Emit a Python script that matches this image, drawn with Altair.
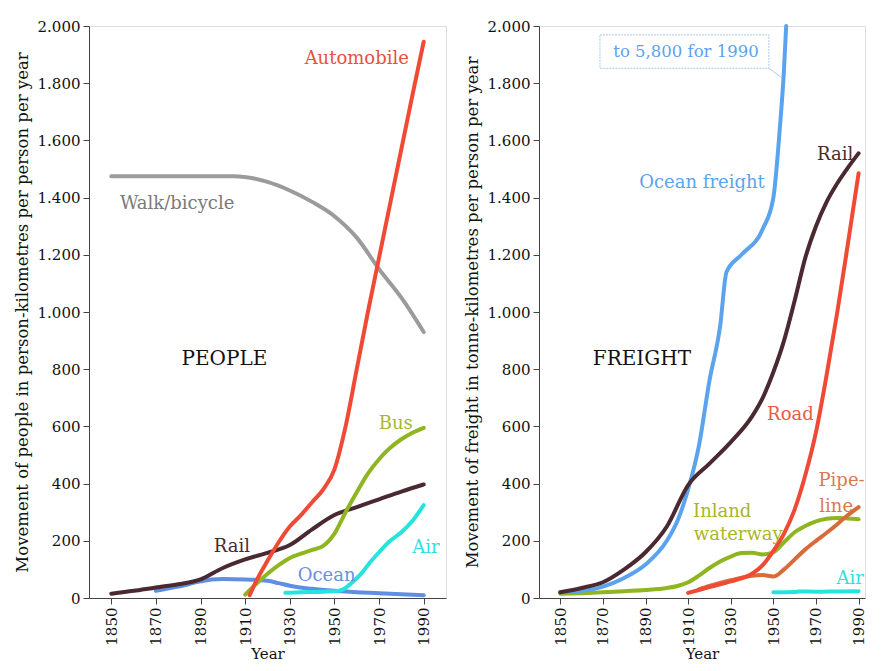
import altair as alt
import pandas as pd

FONT = "DejaVu Serif"

# ---------------- PEOPLE panel data ----------------
walk_years = [1850, 1870, 1890, 1905, 1920, 1930, 1940, 1950, 1960, 1970, 1980, 1990]
walk_vals = [1475, 1475, 1475, 1475, 1455, 1425, 1385, 1335, 1260, 1150, 1050, 930]

auto_years = [1912, 1915, 1920, 1925, 1930, 1935, 1940, 1945, 1950, 1955, 1960, 1965, 1970, 1975, 1980, 1985, 1990]
auto_vals = [10, 60, 130, 195, 250, 290, 335, 380, 450, 600, 800, 1000, 1190, 1380, 1570, 1760, 1945]

bus_years = [1910, 1915, 1920, 1925, 1930, 1935, 1940, 1945, 1950, 1955, 1960, 1965, 1970, 1975, 1980, 1985, 1990]
bus_vals = [12, 50, 85, 115, 140, 155, 168, 182, 225, 300, 370, 435, 485, 525, 555, 578, 595]

prail_years = [1850, 1860, 1870, 1880, 1890, 1900, 1910, 1920, 1930, 1940, 1950, 1960, 1970, 1980, 1990]
prail_vals = [15, 25, 37, 48, 65, 105, 135, 158, 185, 240, 290, 318, 345, 372, 397]

ocean_years = [1870, 1880, 1890, 1895, 1900, 1910, 1920, 1925, 1930, 1940, 1950, 1960, 1970, 1980, 1990]
ocean_vals = [25, 40, 58, 65, 66, 65, 60, 52, 43, 32, 25, 20, 17, 13, 10]

pair_years = [1928, 1935, 1945, 1952, 1955, 1958, 1962, 1966, 1970, 1975, 1980, 1985, 1990]
pair_vals = [18, 20, 22, 25, 35, 55, 85, 125, 160, 200, 230, 270, 325]

# ---------------- FREIGHT panel data ----------------
ofr_years = [1850, 1860, 1870, 1880, 1890, 1900, 1905, 1910, 1915, 1920, 1925, 1928, 1935, 1945, 1950, 1953, 1955, 1956]
ofr_vals = [20, 25, 40, 70, 117, 200, 270, 380, 530, 760, 950, 1140, 1200, 1290, 1400, 1640, 1850, 2000]

frail_years = [1850, 1860, 1870, 1880, 1890, 1900, 1910, 1920, 1930, 1940, 1945, 1950, 1955, 1960, 1965, 1970, 1975, 1980, 1985, 1990]
frail_vals = [20, 35, 55, 100, 160, 250, 395, 470, 545, 635, 700, 790, 900, 1040, 1190, 1300, 1385, 1450, 1505, 1555]

road_years = [1910, 1920, 1930, 1940, 1945, 1950, 1955, 1960, 1965, 1970, 1975, 1980, 1985, 1990]
road_vals = [18, 38, 58, 85, 115, 165, 225, 310, 430, 580, 780, 1000, 1240, 1485]

pipe_years = [1915, 1920, 1930, 1940, 1945, 1950, 1955, 1960, 1965, 1970, 1975, 1980, 1985, 1990]
pipe_vals = [30, 42, 62, 78, 80, 75, 100, 135, 170, 200, 228, 258, 290, 318]

inland_years = [1850, 1860, 1870, 1880, 1890, 1900, 1905, 1910, 1915, 1920, 1925, 1930, 1935, 1940, 1945, 1950, 1955, 1960, 1965, 1970, 1975, 1980, 1985, 1990]
inland_vals = [15, 17, 20, 24, 28, 35, 42, 55, 78, 105, 128, 145, 157, 158, 152, 160, 195, 230, 252, 268, 277, 280, 278, 275]

fair_years = [1950, 1960, 1962, 1970, 1980, 1990]
fair_vals = [20, 21, 23, 22, 23, 24]

# ---------------- annotation labels (data coordinates) ----------------
people_labels = ["Automobile", "Walk/bicycle", "Bus", "Rail", "Ocean", "Air"]
people_label_keys = ["Automobile", "Walk/bicycle", "Bus", "Rail", "Ocean", "Air"]
people_label_x = [1960, 1879.5, 1977.5, 1904, 1946.5, 1991]
people_label_y = [1886, 1376, 610, 179, 76, 176]

freight_labels = ["Ocean freight", "Rail", "Road", "Pipe-", "line", "Inland", "waterway", "Air"]
freight_label_keys = ["Ocean freight", "Rail", "Road", "Pipeline", "Pipeline", "Inland waterway", "Inland waterway", "Air"]
freight_label_x = [1916.5, 1979, 1958, 1982, 1979.5, 1926, 1933.5, 1986]
freight_label_y = [1451, 1548, 641, 410, 317, 300, 221, 66]

panel_titles = ["PEOPLE", "FREIGHT"]
panel_title_x = [1900.7, 1888.3]
panel_title_y = [834, 834]

note_text = ["to 5,800 for 1990"]
note_x = [1909]
note_y = [1910]

box_x = [1868.6]
box_x2 = [1947.9]
box_y = [1852]
box_y2 = [1969]
lead_x = [1947.9]
lead_x2 = [1953.8]
lead_y = [1852]
lead_y2 = [1820]

# ---------------- styles ----------------
people_series = ["Walk/bicycle", "Ocean", "Air", "Rail", "Bus", "Automobile"]
people_colors = ["#9b9b9b", "#5e8fe3", "#26e3e0", "#4a2a30", "#8fb520", "#f04a36"]
people_text_colors = ["#7a7a7a", "#6a8fe0", "#30dede", "#4a2a30", "#a8b62a", "#e8503c"]

freight_series = ["Air", "Inland waterway", "Pipeline", "Road", "Ocean freight", "Rail"]
freight_colors = ["#26e3e0", "#8fb520", "#d96a3a", "#f04a36", "#5ca3ee", "#4a2a30"]
freight_text_colors = ["#30dede", "#a8b62a", "#d87a4e", "#ec5a44", "#5ca3ee", "#4a2a30"]


def long_df(items):
    rows = []
    for name, ys, vs in items:
        for i, (yy, vv) in enumerate(zip(ys, vs)):
            rows.append({"series": name, "year": yy, "value": vv, "order": i})
    return pd.DataFrame(rows)


people_df = long_df([
    ("Walk/bicycle", walk_years, walk_vals),
    ("Ocean", ocean_years, ocean_vals),
    ("Air", pair_years, pair_vals),
    ("Rail", prail_years, prail_vals),
    ("Bus", bus_years, bus_vals),
    ("Automobile", auto_years, auto_vals),
])
freight_df = long_df([
    ("Air", fair_years, fair_vals),
    ("Inland waterway", inland_years, inland_vals),
    ("Pipeline", pipe_years, pipe_vals),
    ("Road", road_years, road_vals),
    ("Ocean freight", ofr_years, ofr_vals),
    ("Rail", frail_years, frail_vals),
])

people_lab_df = pd.DataFrame({"label": people_labels, "key": people_label_keys,
                              "x": people_label_x, "y": people_label_y})
freight_lab_df = pd.DataFrame({"label": freight_labels, "key": freight_label_keys,
                               "x": freight_label_x, "y": freight_label_y})
people_title_df = pd.DataFrame({"label": panel_titles[:1], "x": panel_title_x[:1], "y": panel_title_y[:1]})
freight_title_df = pd.DataFrame({"label": panel_titles[1:], "x": panel_title_x[1:], "y": panel_title_y[1:]})
note_df = pd.DataFrame({"label": note_text, "x": note_x, "y": note_y})
box_df = pd.DataFrame({"x": box_x, "x2": box_x2, "y": box_y, "y2": box_y2})
lead_df = pd.DataFrame({"x": lead_x, "x2": lead_x2, "y": lead_y, "y2": lead_y2})

Y_SCALE = alt.Scale(domain=[0, 2000], nice=False)


def x_axis():
    return alt.Axis(
        values=list(range(1850, 1991, 20)), format="d", labelAngle=270,
        labelAlign="right", labelBaseline="middle", labelFont=FONT, labelFontSize=15,
        labelColor="#111", tickColor="#444", domainColor="#444", tickSize=6,
        labelPadding=3, title="Year", titleFont=FONT, titleFontSize=15,
        titleFontWeight="normal", titleColor="#111", titlePadding=1, grid=False,
    )


def y_axis(title):
    return alt.Axis(
        values=list(range(0, 2001, 200)),
        labelExpr="replace(format(datum.value, ','), ',', '.')",
        labelFont=FONT, labelFontSize=15, labelColor="#111", tickColor="#444",
        domainColor="#444", tickSize=6, labelPadding=3, title=title,
        titleFont=FONT, titleFontSize=16.5, titleFontWeight="normal",
        titleColor="#111", titlePadding=7, grid=False,
    )


def simple_text(df, xs, size, color):
    return alt.Chart(df).mark_text(font=FONT, fontSize=size, color=color, align="center",
                                   baseline="middle").encode(
        x=alt.X("x:Q", scale=xs), y=alt.Y("y:Q", scale=Y_SCALE), text="label:N")


def panel(df, series, colors, lab_df, text_colors, title_df, ytitle, xdom, width, extras_fn=None):
    xs = alt.Scale(domain=xdom, nice=False, zero=False)
    lines = alt.Chart(df).mark_line(strokeWidth=4, interpolate="monotone", strokeCap="round").encode(
        x=alt.X("year:Q", scale=xs, axis=x_axis()),
        y=alt.Y("value:Q", scale=Y_SCALE, axis=y_axis(ytitle)),
        color=alt.Color("series:N", scale=alt.Scale(domain=series, range=colors), legend=None),
        order="order:Q",
    )
    texts = alt.Chart(lab_df).mark_text(font=FONT, fontSize=18, align="center", baseline="middle").encode(
        x=alt.X("x:Q", scale=xs),
        y=alt.Y("y:Q", scale=Y_SCALE),
        text="label:N",
        color=alt.Color("key:N", scale=alt.Scale(domain=series, range=text_colors), legend=None),
    )
    title_txt = simple_text(title_df, xs, 20, "#111111")
    extras = extras_fn(xs) if extras_fn else []
    layers = [lines] + list(extras) + [texts, title_txt]
    return alt.layer(*layers).resolve_scale(color="independent").properties(width=width, height=572)


def box_layers(xs):
    box = alt.Chart(box_df).mark_rect(fill="white", stroke="#a9c8ec", strokeWidth=1, strokeDash=[2, 1]).encode(
        x=alt.X("x:Q", scale=xs), x2="x2:Q",
        y=alt.Y("y:Q", scale=Y_SCALE), y2="y2:Q",
    )
    lead = alt.Chart(lead_df).mark_rule(stroke="#a9c8ec", strokeWidth=1).encode(
        x=alt.X("x:Q", scale=xs), x2="x2:Q",
        y=alt.Y("y:Q", scale=Y_SCALE), y2="y2:Q",
    )
    note = simple_text(note_df, xs, 16.5, "#5ca3ee")
    return [box, lead, note]


left = panel(people_df, people_series, people_colors, people_lab_df, people_text_colors,
             people_title_df, "Movement of people in person-kilometres per person per year",
             [1840, 2000], 357)
right = panel(freight_df, freight_series, freight_colors, freight_lab_df, freight_text_colors,
              freight_title_df, "Movement of freight in tonne-kilometres per person per year",
              [1840, 1993], 326, extras_fn=box_layers)

chart = alt.hconcat(left, right, spacing=16).properties(
    padding={"left": 5, "top": 9, "right": 0, "bottom": 0}
).configure_view(stroke=None).configure(background="white")

chart.save("out.html", embed_options={"renderer": "svg", "actions": False})
